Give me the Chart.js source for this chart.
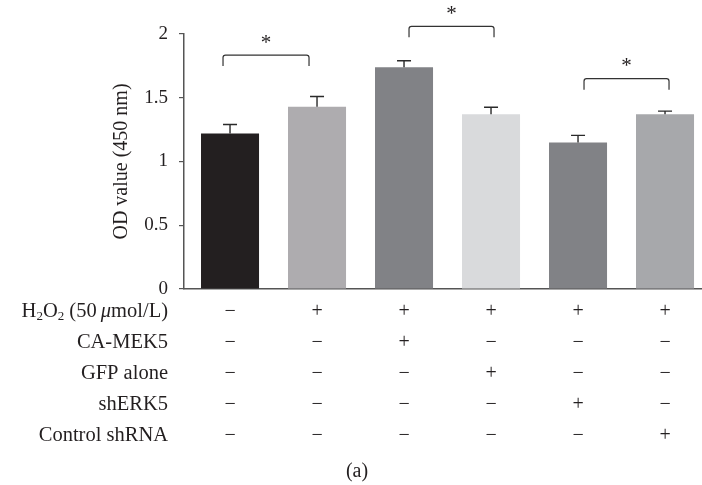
<!DOCTYPE html>
<html>
<head>
<meta charset="utf-8">
<script src="https://cdn.jsdelivr.net/npm/chart.js@4.4.1/dist/chart.umd.min.js"></script>
<style>
  html, body { margin: 0; padding: 0; background: #ffffff; }
  #wrap { width: 702px; height: 485px; position: relative; }
</style>
</head>
<body>
<div id="wrap"><canvas id="c" width="702" height="485"></canvas></div>
<script>
// ---- data ----
const groups = ['1', '2', '3', '4', '5', '6'];
const odValues = [1.22, 1.43, 1.74, 1.37, 1.15, 1.37];
const odErrors = [0.07, 0.08, 0.05, 0.055, 0.055, 0.025];
const barColors = ['#231f20', '#aeacaf', '#818286', '#d9dadc', '#818286', '#a7a8ab'];
const yTicks = [0, 0.5, 1, 1.5, 2];
const rowLabels = ['H2O2', 'CA-MEK5', 'GFP alone', 'shERK5', 'Control shRNA'];
const rowH2O2 = ['−', '+', '+', '+', '+', '+'];
const rowCAMEK5 = ['−', '−', '+', '−', '−', '−'];
const rowGFP = ['−', '−', '−', '+', '−', '−'];
const rowShERK5 = ['−', '−', '−', '−', '+', '−'];
const rowControl = ['−', '−', '−', '−', '−', '+'];
const sigPairs = [[0, 1], [2, 3], [4, 5]];
const sigTop = [1.835, 2.06, 1.65];
const sigLabel = ['*', '*', '*'];
const yTitle = 'OD value (450 nm)';
const panelLabel = '(a)';

const TEXT = '#231f20';
const SERIF = '"Liberation Serif", "DejaVu Serif", serif';

const overlay = {
  id: 'overlay',
  afterDatasetsDraw(chart) {
    const ctx = chart.ctx;
    const xs = chart.scales.x, ys = chart.scales.y;
    ctx.save();
    // error bars (upper only)
    ctx.strokeStyle = '#2a2a2a';
    ctx.lineWidth = 1.4;
    odValues.forEach((v, i) => {
      const x = xs.getPixelForValue(i);
      const y0 = ys.getPixelForValue(v);
      const y1 = ys.getPixelForValue(v + odErrors[i]);
      ctx.beginPath();
      ctx.moveTo(x, y0); ctx.lineTo(x, y1);
      ctx.moveTo(x - 7, y1); ctx.lineTo(x + 7, y1);
      ctx.stroke();
    });
    // significance brackets
    const shifts = [[-7, -8], [5, 3], [6, 4]];
    sigPairs.forEach((p, k) => {
      const xa = xs.getPixelForValue(p[0]) + shifts[k][0];
      const xb = xs.getPixelForValue(p[1]) + shifts[k][1];
      const yt = ys.getPixelForValue(sigTop[k]);
      const leg = 11, r = 2.5;
      ctx.beginPath();
      ctx.moveTo(xa, yt + leg);
      ctx.lineTo(xa, yt + r);
      ctx.quadraticCurveTo(xa, yt, xa + r, yt);
      ctx.lineTo(xb - r, yt);
      ctx.quadraticCurveTo(xb, yt, xb, yt + r);
      ctx.lineTo(xb, yt + leg);
      ctx.lineWidth = 1.2;
      ctx.strokeStyle = '#333';
      ctx.stroke();
      ctx.fillStyle = TEXT;
      ctx.font = '21px ' + SERIF;
      ctx.textAlign = 'center';
      ctx.textBaseline = 'alphabetic';
      const m = ctx.measureText(sigLabel[k]);
      const cy = yt - 16.5;
      ctx.fillText(sigLabel[k], (xa + xb) / 2, cy + (m.actualBoundingBoxAscent - m.actualBoundingBoxDescent) / 2);
    });
    // treatment table
    const rows = [rowH2O2, rowCAMEK5, rowGFP, rowShERK5, rowControl];
    const rowY = [312, 342.5, 373.5, 404.5, 435.5];
    const labelRight = 168;
    ctx.fillStyle = TEXT;
    ctx.textBaseline = 'middle';
    rows.forEach((row, r) => {
      const y = rowY[r];
      ctx.font = '20px ' + SERIF;
      ctx.textAlign = 'center';
      row.forEach((s, i) => {
        ctx.fillText(s, xs.getPixelForValue(i), y);
      });
      if (r === 0) {
        // H2O2 (50 μmol/L) with subscripts and italic mu
        const parts = [
          { t: 'H', f: '20.5px ' + SERIF, dy: 0 },
          { t: '2', f: '13px ' + SERIF, dy: 5 },
          { t: 'O', f: '20.5px ' + SERIF, dy: 0 },
          { t: '2', f: '13px ' + SERIF, dy: 5 },
          { t: ' (50\u2009', f: '20.5px ' + SERIF, dy: 0 },
          { t: 'μ', f: 'italic 20.5px ' + SERIF, dy: 0 },
          { t: 'mol/L)', f: '20.5px ' + SERIF, dy: 0 }
        ];
        let total = 0;
        parts.forEach(p => { ctx.font = p.f; p.w = ctx.measureText(p.t).width; total += p.w; });
        let x = labelRight - total;
        ctx.textAlign = 'left';
        parts.forEach(p => { ctx.font = p.f; ctx.fillText(p.t, x, y + p.dy); x += p.w; });
      } else {
        ctx.font = '20.5px ' + SERIF;
        ctx.textAlign = 'right';
        ctx.fillText(rowLabels[r], labelRight, y);
      }
    });
    ctx.font = '20px ' + SERIF;
    ctx.textAlign = 'center';
    ctx.fillText(panelLabel, 357, 472);
    ctx.restore();
  }
};

new Chart(document.getElementById('c'), {
  type: 'bar',
  data: {
    labels: groups,
    datasets: [{
      data: odValues.map((v, i) => ({ x: i, y: v })),
      backgroundColor: barColors,
      borderWidth: 0,
      barPercentage: 0.667,
      categoryPercentage: 1.0
    }]
  },
  options: {
    responsive: false,
    animation: false,
    devicePixelRatio: 1,
    layout: { padding: { left: 110, right: 0, top: 34, bottom: 196 } },
    plugins: { legend: { display: false }, tooltip: { enabled: false }, title: { display: false } },
    scales: {
      x: {
        type: 'linear',
        min: -0.529,
        max: 5.425,
        offset: false,
        ticks: { display: false },
        grid: { display: false },
        border: { display: true, color: '#555', width: 1.5 },
        afterFit(s) { s.height = 0; }
      },
      y: {
        min: 0,
        max: 2,
        afterBuildTicks(s) { s.ticks = yTicks.map(v => ({ value: v })); },
        ticks: {
          padding: 11,
          color: TEXT,
          font: { family: SERIF, size: 19 },
          callback: v => String(v)
        },
        grid: { display: true, drawOnChartArea: false, drawTicks: true, tickLength: 5, color: '#555', lineWidth: 1.2 },
        border: { display: true, color: '#555', width: 1.5 },
        title: {
          display: true,
          text: yTitle,
          color: TEXT,
          font: { family: SERIF, size: 20 },
          padding: 0
        },
        afterFit(s) { s.width = 74; }
      }
    }
  },
  plugins: [overlay]
});
</script>
</body>
</html>
